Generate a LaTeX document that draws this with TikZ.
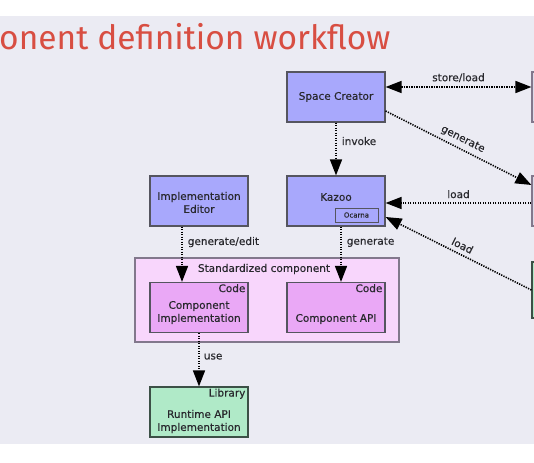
\documentclass[tikz,border=0pt]{standalone}
\usepackage{fontspec}
\setmainfont{DejaVu Sans}[FakeBold=0.3]
\newfontfamily\titlefont{Fira Sans}
\usetikzlibrary{arrows.meta}
\definecolor{bg}{RGB}{235,235,243}
\definecolor{titlered}{RGB}{216,78,66}
\definecolor{boxline}{RGB}{85,85,95}
\definecolor{blueboxfill}{RGB}{168,168,252}
\definecolor{codefill}{RGB}{234,168,246}
\definecolor{stdfill}{RGB}{248,214,252}
\definecolor{libfill}{RGB}{176,234,200}
\definecolor{libline}{RGB}{60,80,70}
\definecolor{greyfill}{RGB}{222,218,232}
\definecolor{greyline}{RGB}{130,120,140}
\definecolor{txt}{RGB}{40,40,45}
\tikzset{
  bigtri/.tip={Triangle[length=16pt,width=12pt]},
  box/.style={draw=boxline, line width=1.2pt, minimum width=98pt, minimum height=50pt, inner sep=0pt},
  btext/.style={text=txt, font=\fontsize{10.5}{13}\selectfont, align=center, inner sep=0pt},
  lbl/.style={text=txt, font=\fontsize{10.5}{12}\selectfont, inner sep=1pt},
  tag/.style={text=txt, font=\fontsize{10.5}{12}\selectfont, inner sep=0pt, anchor=north east},
  dotarrow/.style={line width=1.6pt, dash pattern=on 1.3pt off 1.2pt, -bigtri},
}
\begin{document}
\begin{tikzpicture}[x=1pt,y=-1pt]
\useasboundingbox (0,0) rectangle (534,462);
\fill[bg] (0,16) rectangle (534,444);
\node[anchor=base west, font=\titlefont\fontsize{33.5}{34}\selectfont, text=titlered, inner sep=0pt] (title) at (-1,50) {onent definition workflow};

% right partial boxes
\node[draw=greyline, fill=greyfill, line width=1.2pt, minimum width=40pt, minimum height=50pt] (r1) at (552,97) {};
\node[draw=greyline, fill=greyfill, line width=1.2pt, minimum width=40pt, minimum height=50pt] (r2) at (552,201) {};
\node[draw=libline, fill=libfill, line width=1.2pt, minimum width=40pt, minimum height=56pt] (r3) at (552,290) {};

% main boxes
\node[box, fill=blueboxfill] (sc) at (336,97) {};
\node[btext] (sct) at (336,97) {Space Creator};
\node[box, fill=blueboxfill] (kz) at (336,201) {};
\node[btext] (kzt) at (336,197) {Kazoo};
\node[draw=boxline, line width=1pt, fill=blueboxfill, minimum width=43pt, minimum height=14pt, inner sep=0pt, font=\fontsize{7}{8}\selectfont, text=txt] (oc) at (356.5,215) {Ocarna};
\node[box, fill=blueboxfill] (ie) at (199,201) {};
\node[btext] (iet) at (199,202.5) {Implementation\\Editor};

\node[draw=greyline, line width=1.2pt, fill=stdfill, minimum width=264pt, minimum height=84pt, inner sep=0pt] (std) at (267,300) {};
\node[btext] (stdt) at (264,269) {Standardized component};

\node[box, fill=codefill] (ci) at (199,307.5) {};
\node[tag] (cit) at ([xshift=-3pt,yshift=-2pt]ci.north east) {Code};
\node[btext] (cix) at (199,312.5) {Component\\Implementation};
\node[box, fill=codefill] (ca) at (336,307.5) {};
\node[tag] (cat) at ([xshift=-3pt,yshift=-2pt]ca.north east) {Code};
\node[btext] (cax) at (336,319) {Component API};

\node[box, fill=libfill, draw=libline] (lib) at (199,412) {};
\node[tag] (libt) at ([xshift=-3pt,yshift=-2pt]lib.north east) {Library};
\node[btext] (libx) at (199,421.5) {Runtime API\\Implementation};

% connectors
\draw[dotarrow, bigtri-bigtri] ([yshift=10pt]sc.east) -- node[lbl, above=3pt] {store/load} ([yshift=10pt]r1.west);
\draw[dotarrow] ([yshift=-14pt]sc.east) -- node[lbl, sloped, above=3pt] {generate} ([yshift=16pt]r2.west);
\draw[dotarrow] (sc.south) -- node[lbl, right=4pt, pos=0.35] {invoke} (kz.north);
\draw[dotarrow] ([yshift=-2pt]r2.west) -- node[lbl, above=3pt] {load} ([yshift=-2pt]kz.east);
\draw[dotarrow] (r3.west) -- node[lbl, sloped, above=3pt] {load} ([yshift=-16pt]kz.east);
\draw[dotarrow] ([xshift=-17pt]ie.south) -- node[lbl, right=4pt, pos=0.28] {generate/edit} ([xshift=-17pt]ci.north);
\draw[dotarrow] ([xshift=5pt]kz.south) -- node[lbl, right=4pt, pos=0.28] {generate} ([xshift=5pt]ca.north);
\draw[dotarrow] (ci.south) -- node[lbl, right=3pt, pos=0.44] {use} (lib.north);
\end{tikzpicture}
\end{document}
